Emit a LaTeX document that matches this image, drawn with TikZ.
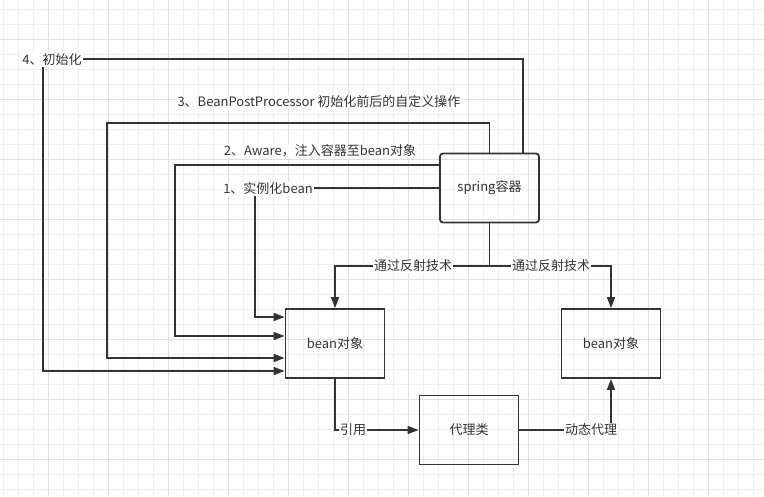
\documentclass[tikz,border=0pt]{standalone}
\usepackage{fontspec}
\setmainfont{Noto Sans CJK SC}
\usepackage{tikz}
\usetikzlibrary{arrows.meta}
\definecolor{ink}{HTML}{333333}
\definecolor{gridminor}{HTML}{F0F0F0}
\definecolor{gridmajor}{HTML}{E0E0E0}
\tikzset{
	box/.style={draw=ink, line width=1.8pt, minimum width=99pt, minimum height=69pt, font=\fontsize{13}{15}\selectfont, text=ink},
	conn/.style={draw=ink, line width=1.6pt, -{Triangle[length=11pt,width=8pt]}},
	wire/.style={draw=ink, line width=1.6pt},
	lbl/.style={fill=white, inner sep=1pt, font=\fontsize{13}{15}\selectfont, text=ink},
}

\begin{document}
\begin{tikzpicture}[x=1pt, y=-1pt]
		%%%%% START %%%%%
		
		\useasboundingbox (0, 0) rectangle (764, 496);
		\fill[white] (0, 0) rectangle (764, 496);
		
		\foreach \gx in {3.3, 18.3, ..., 764}
			\draw[gridminor, line width=0.8pt] (\gx, 0) -- (\gx, 496);
		\foreach \gy in {9.3, 24.3, ..., 496}
			\draw[gridminor, line width=0.8pt] (0, \gy) -- (764, \gy);
		\foreach \gx in {48.3, 108.3, ..., 764}
			\draw[gridmajor, line width=0.8pt] (\gx, 0) -- (\gx, 496);
		\foreach \gy in {39.3, 99.3, ..., 496}
			\draw[gridmajor, line width=0.8pt] (0, \gy) -- (764, \gy);
		
		\node[box, rounded corners=3pt] (spring) at (489.5, 188) {spring容器};
		\node[box] (beanL) at (335, 343.5) {bean对象};
		\node[box] (beanR) at (611, 343.5) {bean对象};
		\node[box] (proxy) at (469, 430) {代理类};
		
		\draw[conn] ([xshift=-17pt]spring.north east) |- (43, 59) -- (43, 371) -- ([yshift=-27.5pt]beanL.west);
		\draw[conn] (spring.north) |- (107, 123) |- ([yshift=-14.5pt]beanL.west);
		\draw[conn] ([yshift=23pt]spring.west) -| (175, 336) -- ([yshift=7.5pt]beanL.west);
		\draw[conn] (spring.west) -| (255, 317) -- ([yshift=26.5pt]beanL.west);
		
		\draw[wire] (spring.south) -- (489.5, 266);
		\draw[conn] (489.5, 266) -| (beanL.north);
		\draw[conn] (489.5, 266) -| (beanR.north);
		
		\draw[conn] (beanL.south) |- (proxy.west);
		\draw[conn] (proxy.east) -| (beanR.south);
		
		\node[lbl] (init) at (52, 60) {4、初始化};
		\node[lbl] (post) at (319, 102) {3、BeanPostProcessor 初始化前后的自定义操作};
		\node[lbl] (aware) at (320, 151) {2、Aware，注入容器至bean对象};
		\node[lbl] (inst) at (268, 189) {1、实例化bean};
		\node[lbl] (reflL) at (413, 266) {通过反射技术};
		\node[lbl] (reflR) at (551, 266) {通过反射技术};
		\node[lbl] (ref) at (353, 430) {引用};
		\node[lbl] (dyn) at (591, 430) {动态代理};
		
		%%%%% END %%%%%
	\end{tikzpicture}
\end{document}
